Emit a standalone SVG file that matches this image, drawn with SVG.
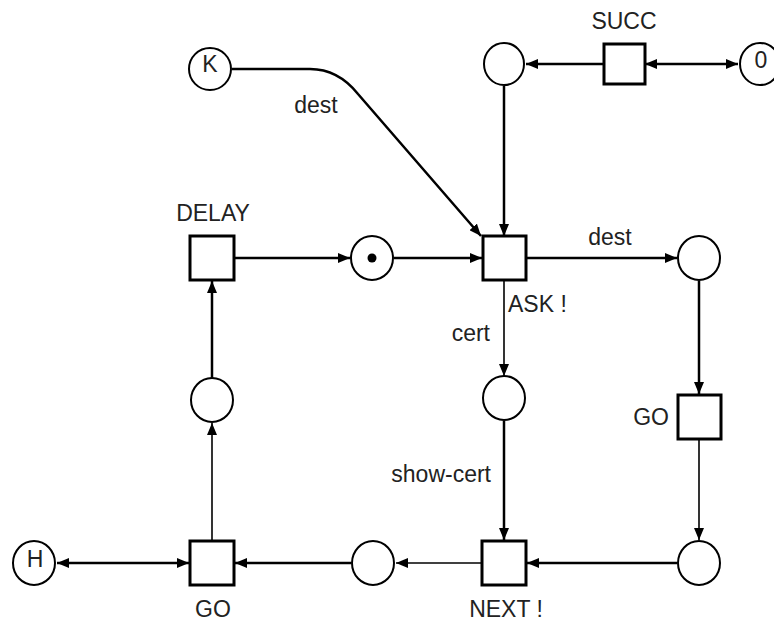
<svg xmlns="http://www.w3.org/2000/svg" width="774" height="626" viewBox="0 0 774 626">
<defs>
<marker id="ah" viewBox="0 0 12 10" refX="12" refY="5" markerWidth="12" markerHeight="10" markerUnits="userSpaceOnUse" orient="auto-start-reverse">
<path d="M0,0 L12,5 L0,10 Z" fill="#000"/>
</marker>
</defs>
<style>
.p{fill:#fff;stroke:#000;stroke-width:2}
.t{fill:#fff;stroke:#000;stroke-width:3}
.c{fill:none;stroke:#000;stroke-width:2.5}
.thin{stroke-width:1.6}
text{font-family:"Liberation Sans",Arial,sans-serif;font-size:23px;fill:#222}
.m{text-anchor:middle}
.e{text-anchor:end}
</style>
<rect width="774" height="626" fill="#fff"/>
<g id="connectors">
<path class="c" d="M232,69 L310,69 Q338,69 358,94 L481,236" marker-end="url(#ah)"/>
<line class="c" x1="504" y1="86" x2="504" y2="236" marker-end="url(#ah)"/>
<line class="c" x1="604" y1="64" x2="526" y2="64" marker-end="url(#ah)"/>
<line class="c" x1="645" y1="64" x2="738" y2="64" marker-start="url(#ah)" marker-end="url(#ah)"/>
<line class="c" x1="235" y1="258" x2="350" y2="258" marker-end="url(#ah)"/>
<line class="c" x1="394" y1="258" x2="482" y2="258" marker-end="url(#ah)"/>
<line class="c" x1="526" y1="258" x2="677" y2="258" marker-end="url(#ah)"/>
<line class="c" x1="699" y1="281" x2="699" y2="394" marker-end="url(#ah)"/>
<line class="c thin" x1="699" y1="440" x2="699" y2="540" marker-end="url(#ah)"/>
<line class="c thin" x1="504" y1="281" x2="504" y2="376" marker-end="url(#ah)"/>
<line class="c" x1="504" y1="421" x2="504" y2="540" marker-end="url(#ah)"/>
<line class="c" x1="677" y1="563" x2="527" y2="563" marker-end="url(#ah)"/>
<line class="c thin" x1="481" y1="563" x2="396" y2="563" marker-end="url(#ah)"/>
<line class="c" x1="351" y1="563" x2="235" y2="563" marker-end="url(#ah)"/>
<line class="c" x1="189" y1="563" x2="57" y2="563" marker-start="url(#ah)" marker-end="url(#ah)"/>
<line class="c thin" x1="212" y1="540" x2="212" y2="423" marker-end="url(#ah)"/>
<line class="c" x1="212" y1="378" x2="212" y2="281" marker-end="url(#ah)"/>
<text x="316" y="113" class="m">dest</text>
<text x="610" y="245" class="m">dest</text>
<text x="508" y="312">ASK !</text>
<text x="490" y="341" class="e">cert</text>
<text x="491" y="482" class="e">show-cert</text>
</g>
<g id="K"><ellipse class="p" cx="210" cy="69" rx="21" ry="21"/><text x="210" y="72" class="m">K</text></g>
<g id="p_top"><ellipse class="p" cx="504" cy="64" rx="20" ry="21"/></g>
<g id="SUCC"><rect class="t" x="604" y="44" width="41" height="40"/><text x="624" y="29" class="m">SUCC</text></g>
<g id="zero"><ellipse class="p" cx="760" cy="64" rx="20" ry="21"/><text x="761" y="68" class="m">0</text></g>
<g id="DELAY"><rect class="t" x="190" y="236" width="44" height="44"/><text x="213" y="221" class="m">DELAY</text></g>
<g id="p_token"><ellipse class="p" cx="372" cy="258" rx="21" ry="22"/><circle cx="372" cy="258" r="4.5" fill="#000"/></g>
<g id="ASK"><rect class="t" x="483" y="236" width="43" height="44"/></g>
<g id="p_right"><ellipse class="p" cx="699" cy="258" rx="21" ry="22"/></g>
<g id="GO_right"><rect class="t" x="678" y="395" width="43" height="44"/><text x="669" y="425" class="e">GO</text></g>
<g id="p_mid"><ellipse class="p" cx="504" cy="398" rx="21" ry="22"/></g>
<g id="p_left"><ellipse class="p" cx="212" cy="400" rx="21" ry="22"/></g>
<g id="H"><ellipse class="p" cx="34" cy="563" rx="21" ry="22"/><text x="35" y="567" class="m">H</text></g>
<g id="GO_bottom"><rect class="t" x="190" y="541" width="44" height="44"/><text x="213" y="617" class="m">GO</text></g>
<g id="p_bottom_mid"><ellipse class="p" cx="373" cy="563" rx="21" ry="22"/></g>
<g id="NEXT"><rect class="t" x="482" y="541" width="44" height="44"/><text x="506" y="617" class="m">NEXT !</text></g>
<g id="p_bottom_right"><ellipse class="p" cx="699" cy="563" rx="21" ry="22"/></g>
</svg>
